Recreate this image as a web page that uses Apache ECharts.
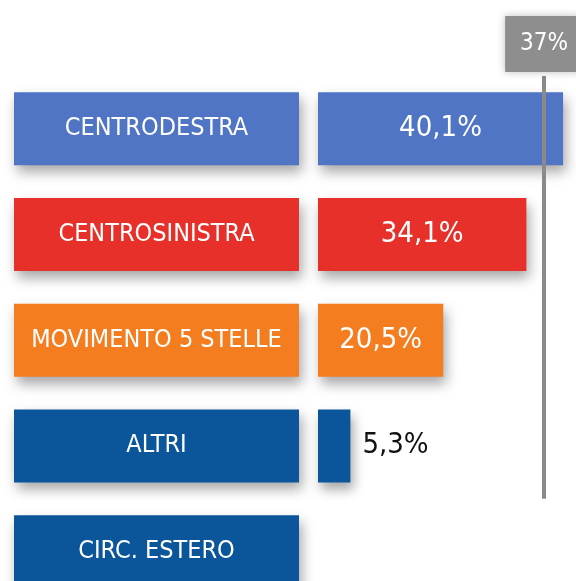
<!DOCTYPE html>
<html>
<head>
<meta charset="utf-8">
<script src="https://cdn.jsdelivr.net/npm/echarts@6/dist/echarts.min.js"></script>
<style>
  html, body { margin: 0; padding: 0; background: #fff; }
  #chart { width: 576px; height: 581px; }
</style>
</head>
<body>
<div id="chart"></div>
<script>
// categorie e valori (%)
const categories = ['CENTRODESTRA', 'CENTROSINISTRA', 'MOVIMENTO 5 STELLE', 'ALTRI', 'CIRC. ESTERO'];
const values = [40.1, 34.1, 20.5, 5.3];
const colors = ['#4f75c4', '#e8302a', '#f47d20', '#0b559b', '#0b559b'];
const threshold = 37;

const font = "'DejaVu Sans Condensed', sans-serif";
const shadow = {
  shadowBlur: 12,
  shadowOffsetX: 3,
  shadowOffsetY: 7,
  shadowColor: 'rgba(0,0,0,0.35)'
};

const chart = echarts.init(document.getElementById('chart'));

const bandH = 105.7;
const gridTop = 76;

const option = {
  backgroundColor: '#fff',
  animation: false,
  grid: [
    // riquadri con i nomi
    { left: 14, width: 285, top: gridTop, height: bandH * categories.length, outerBoundsMode: 'none' },
    // barre dei valori
    { left: 318, width: 275, top: gridTop, height: bandH * values.length, outerBoundsMode: 'none' }
  ],
  xAxis: [
    { gridIndex: 0, type: 'value', min: 0, max: 1, show: false },
    { gridIndex: 1, type: 'value', min: 0, max: 45, show: false }
  ],
  yAxis: [
    { gridIndex: 0, type: 'category', inverse: true, data: categories, show: false },
    { gridIndex: 1, type: 'category', inverse: true, data: categories.slice(0, values.length), show: false }
  ],
  series: [
    {
      type: 'bar',
      xAxisIndex: 0,
      yAxisIndex: 0,
      barWidth: 73,
      data: categories.map((c, i) => ({
        value: 1,
        itemStyle: Object.assign({ color: colors[i] }, shadow)
      })),
      label: {
        show: true,
        position: 'inside',
        formatter: '{b}',
        color: '#fff',
        fontFamily: font,
        fontSize: 25
      }
    },
    {
      type: 'bar',
      xAxisIndex: 1,
      yAxisIndex: 1,
      barWidth: 73,
      data: values.map((v, i) => {
        const item = {
          value: v,
          itemStyle: Object.assign({ color: colors[i] }, shadow)
        };
        if (v < 10) {
          item.label = { position: 'right', color: '#111', distance: 12 };
        }
        return item;
      }),
      label: {
        show: true,
        position: 'inside',
        formatter: (p) => String(p.value).replace('.', ',') + '%',
        color: '#fff',
        fontFamily: font,
        fontSize: 29
      },
      markLine: {
        silent: true,
        symbol: 'none',
        lineStyle: { color: '#8a8a8a', width: 4, type: 'solid' },
        label: {
          show: true,
          position: 'start',
          distance: 4,
          formatter: threshold + '%',
          color: '#fff',
          fontFamily: font,
          fontSize: 24,
          backgroundColor: '#8e8e8e',
          padding: [16, 15, 16, 15],
          shadowBlur: 8,
          shadowColor: 'rgba(0,0,0,0.25)'
        },
        data: [{ xAxis: threshold }]
      },
      z: 3
    }
  ]
};

chart.setOption(option);
</script>
</body>
</html>
